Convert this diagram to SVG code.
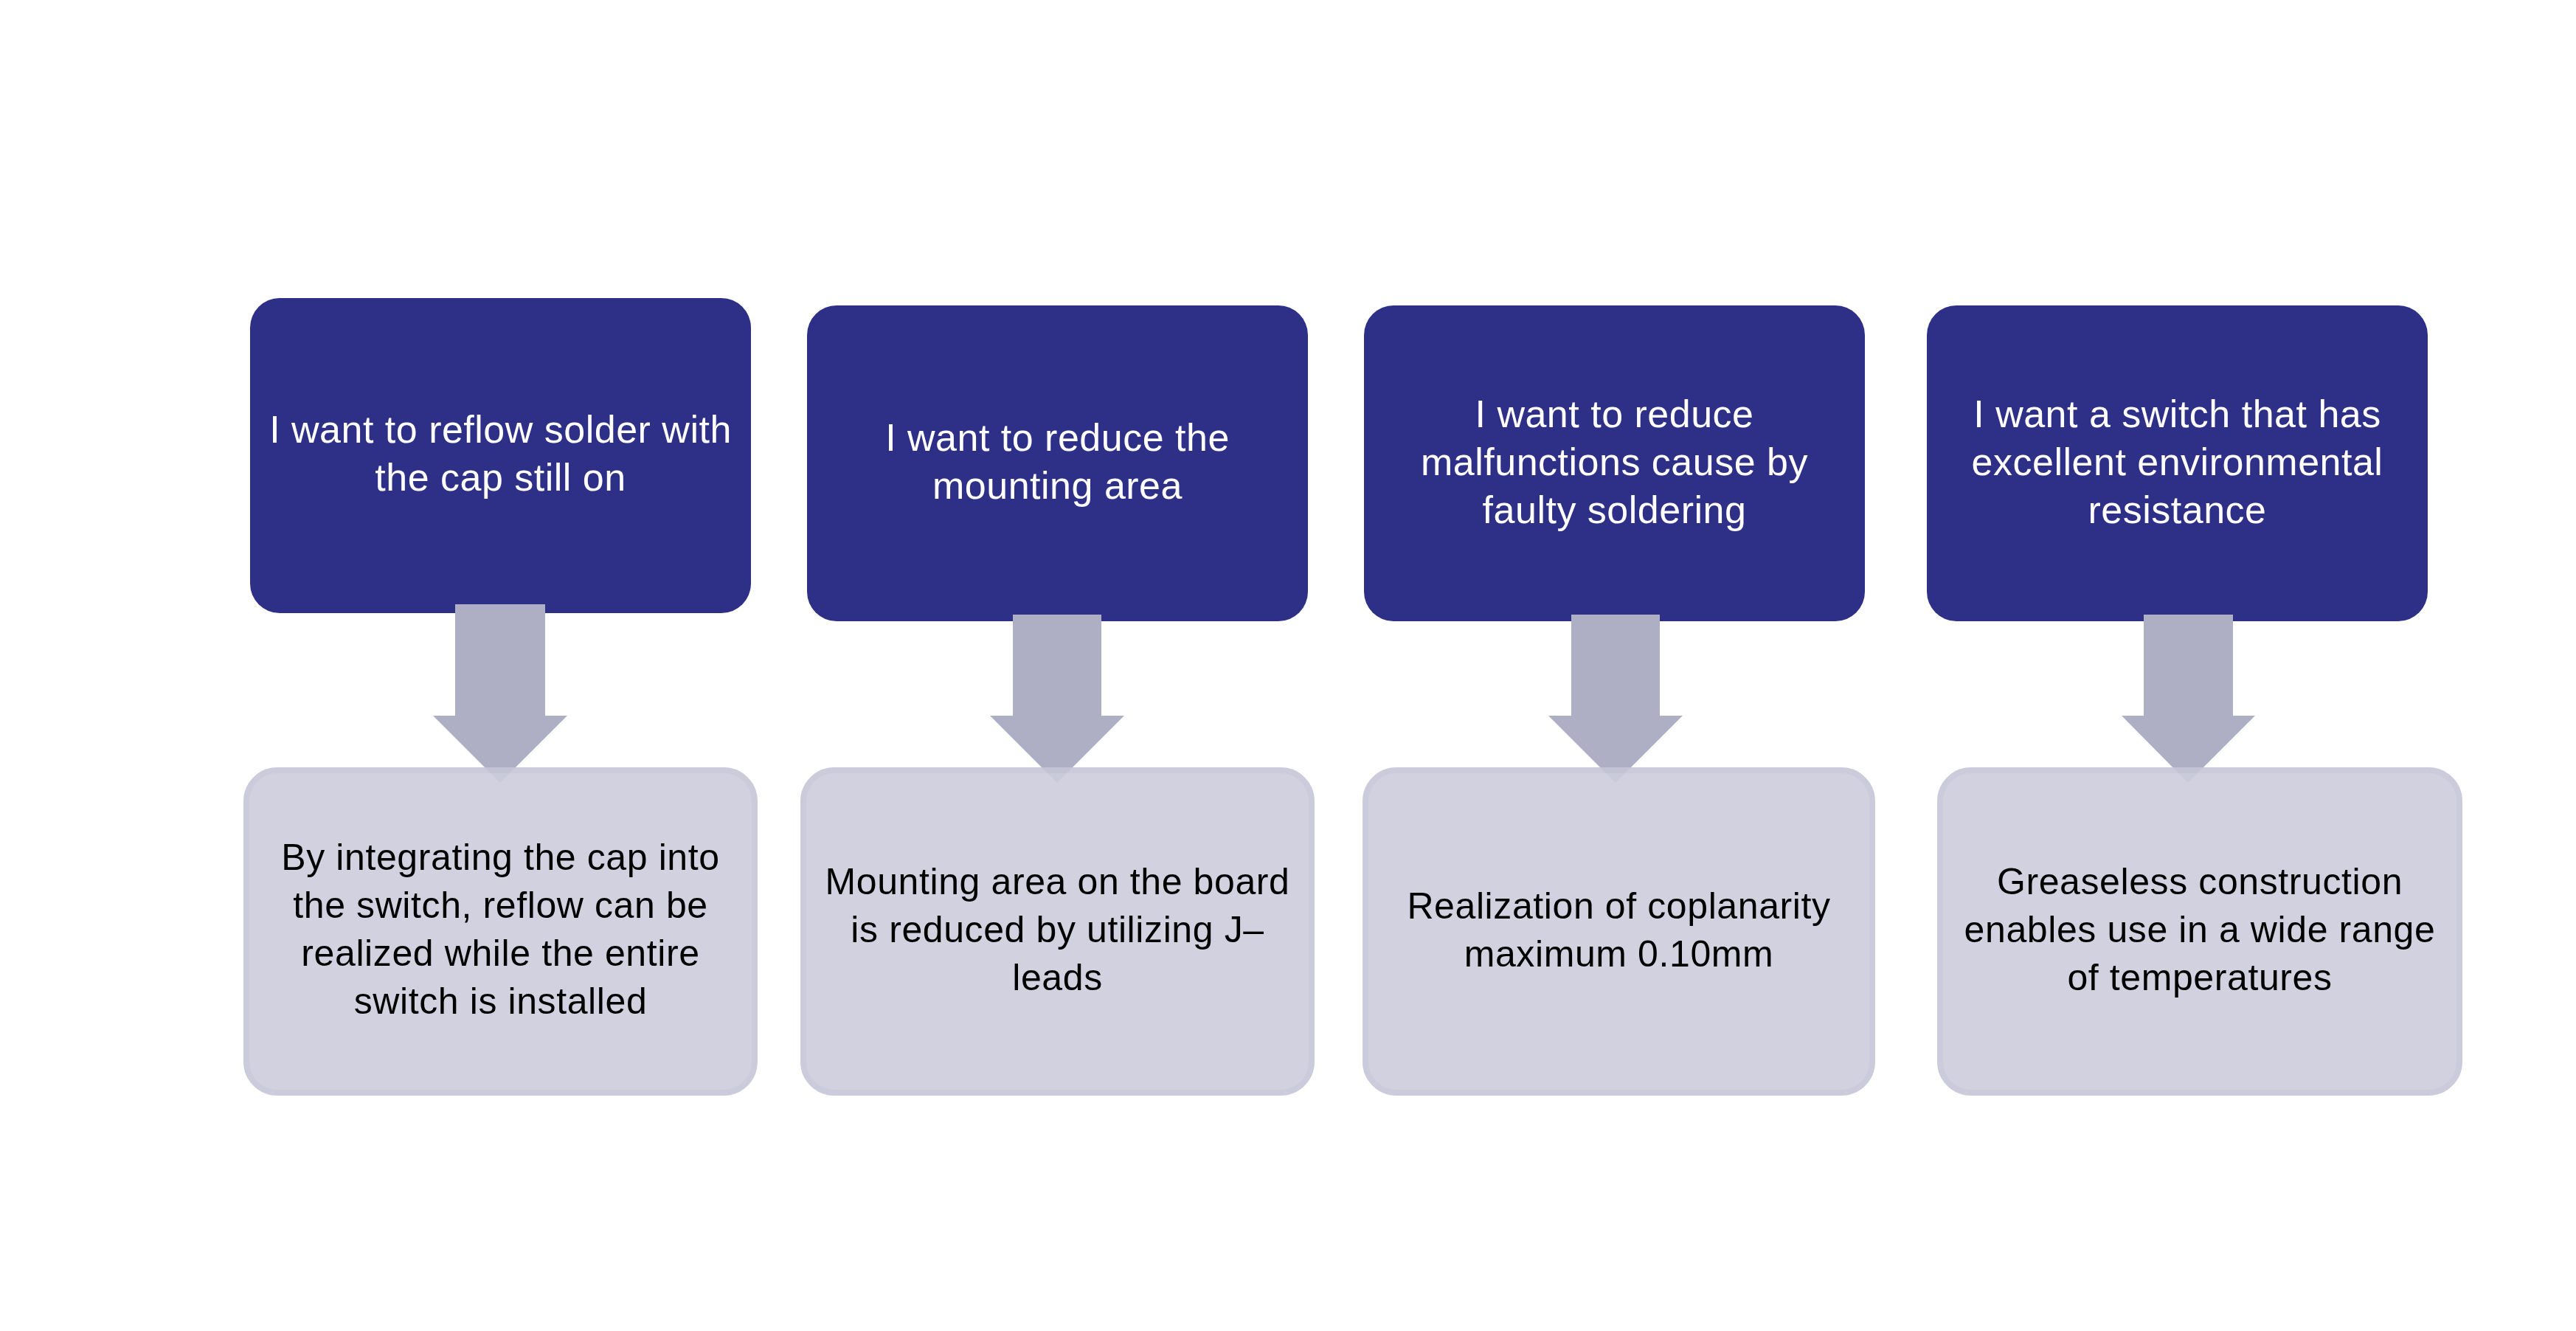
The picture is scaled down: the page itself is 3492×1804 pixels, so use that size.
<svg xmlns="http://www.w3.org/2000/svg" width="3492" height="1804" viewBox="0 0 3492 1804">
<style>
.top{fill:#2E3087}
.bot{fill:#CDCDDD;stroke:#C6C6D8;stroke-width:8;opacity:0.9}
.arr{fill:#AEAFC5}
.tw{font-family:"Liberation Sans",Arial,sans-serif;font-size:52px;fill:#FFFFFF;text-anchor:middle;letter-spacing:0.5px}
.tb{font-family:"Liberation Sans",Arial,sans-serif;font-size:50px;fill:#000000;text-anchor:middle;letter-spacing:0.6px}
</style>
<rect width="3492" height="1804" fill="#FFFFFF"/>
<g id="need1">
<rect class="top" x="339" y="404" width="679" height="427" rx="40"/>
<text class="tw" x="678.5" y="600">I want to reflow solder with</text>
<text class="tw" x="678.5" y="665">the cap still on</text>
</g>
<g id="need2">
<rect class="top" x="1094" y="414" width="679" height="428" rx="40"/>
<text class="tw" x="1433.5" y="611">I want to reduce the</text>
<text class="tw" x="1433.5" y="676">mounting area</text>
</g>
<g id="need3">
<rect class="top" x="1849" y="414" width="679" height="428" rx="40"/>
<text class="tw" x="2188.5" y="579">I want to reduce</text>
<text class="tw" x="2188.5" y="644">malfunctions cause by</text>
<text class="tw" x="2188.5" y="709">faulty soldering</text>
</g>
<g id="need4">
<rect class="top" x="2612" y="414" width="679" height="428" rx="40"/>
<text class="tw" x="2951.5" y="579">I want a switch that has</text>
<text class="tw" x="2951.5" y="644">excellent environmental</text>
<text class="tw" x="2951.5" y="709">resistance</text>
</g>
<g id="connectors">
<polygon class="arr" points="617,819 739,819 739,970 769,970 678,1061 587,970 617,970"/>
<polygon class="arr" points="1373,833 1493,833 1493,970 1524,970 1433,1061 1342,970 1373,970"/>
<polygon class="arr" points="2130,833 2250,833 2250,970 2281,970 2190,1061 2099,970 2130,970"/>
<polygon class="arr" points="2906,833 3027,833 3027,970 3057,970 2966,1061 2876,970 2906,970"/>
</g>
<g id="result1">
<rect class="bot" x="334" y="1044" width="689" height="437" rx="42"/>
<text class="tb" x="678.5" y="1179">By integrating the cap into</text>
<text class="tb" x="678.5" y="1244">the switch, reflow can be</text>
<text class="tb" x="678.5" y="1309">realized while the entire</text>
<text class="tb" x="678.5" y="1374">switch is installed</text>
</g>
<g id="result2">
<rect class="bot" x="1089" y="1044" width="689" height="437" rx="42"/>
<text class="tb" x="1433.5" y="1212">Mounting area on the board</text>
<text class="tb" x="1433.5" y="1277">is reduced by utilizing J–</text>
<text class="tb" x="1433.5" y="1342">leads</text>
</g>
<g id="result3">
<rect class="bot" x="1851" y="1044" width="687" height="437" rx="42"/>
<text class="tb" x="2194.5" y="1245">Realization of coplanarity</text>
<text class="tb" x="2194.5" y="1310">maximum 0.10mm</text>
</g>
<g id="result4">
<rect class="bot" x="2630" y="1044" width="704" height="437" rx="42"/>
<text class="tb" x="2982" y="1212">Greaseless construction</text>
<text class="tb" x="2982" y="1277">enables use in a wide range</text>
<text class="tb" x="2982" y="1342">of temperatures</text>
</g>
</svg>
